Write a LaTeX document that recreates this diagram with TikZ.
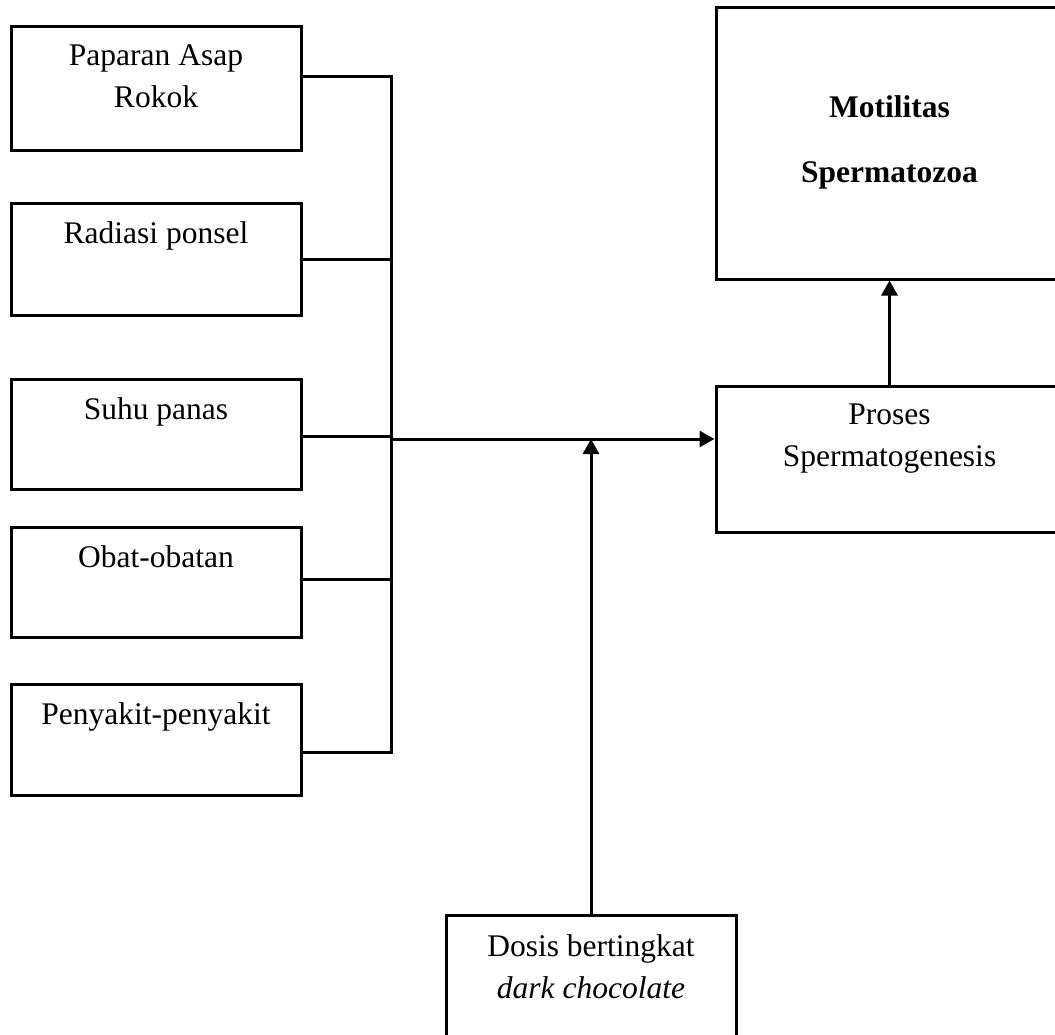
\documentclass[tikz,border=0pt]{standalone}
\usepackage{fontspec}
\setmainfont{Liberation Serif}
\usetikzlibrary{positioning,arrows.meta}
\begin{document}
\begin{tikzpicture}
        [x=1pt,y=-1pt,
        boxdecorate/.style={shape=rectangle,draw,line width=3pt,inner sep=0pt,minimum width=290pt},%
        textdecorate/.style={align=center,inner sep=0pt,font=\fontsize{31.5}{42}\selectfont},%
        linedecorate/.style={-,line width=3pt},%
        arrowdecorate/.style={-{Triangle[length=15pt,width=16pt]},line width=3pt}]
        \clip (0,0) rectangle (1055,1034);
        %% left boxes
        \foreach \nodename/\y/\h/\label in {asap/88/124/{Paparan Asap\\Rokok},
          radiasi/259/112/{Radiasi ponsel}, suhu/434/110/{Suhu panas},
          obat/582/110/{Obat-obatan}, penyakit/739.5/111/{Penyakit-penyakit}}
        {
          \node (\nodename) at (156,\y) [boxdecorate,minimum height=\h pt] {};
          \node (\nodename-t) [textdecorate,below=20pt of \nodename.north] {\label};
        }
        %% right and bottom boxes
        \node (motilitas) at (889.5,143) [boxdecorate,minimum width=347pt,minimum height=272pt] {};
        \node (motilitas-t) [textdecorate,below=90pt of motilitas.north] {\bfseries Motilitas\\[23pt]\bfseries Spermatozoa};
        \node (proses) at (889.5,459) [boxdecorate,minimum width=347pt,minimum height=146pt] {};
        \node (proses-t) [textdecorate,below=19pt of proses.north] {Proses\\Spermatogenesis};
        \node (dosis) at (591,980) [boxdecorate,minimum height=130pt] {};
        \node (dosis-t) [textdecorate,below=21pt of dosis.north] {Dosis bertingkat\\\textit{dark chocolate}};
        %% junctions
        \foreach \nodename/\y in {j1/76, j2/259, j3/436, j4/579, j5/752}
        {
          \coordinate (\nodename) at (391,\y);
        }
        \coordinate (hub) at (391,439);
        %% edges or lines
        \foreach \startnode/\endnode in {asap/j1, radiasi/j2, suhu/j3, obat/j4, penyakit/j5}
        {
          \draw[linedecorate] (\startnode.east |- \endnode) -- (\endnode);
        }
        \draw[linedecorate,line cap=rect] (j1) -- (j5);
        \draw[arrowdecorate] (hub) -- (proses.west |- hub);
        \draw[arrowdecorate] (dosis.north) -- (dosis.north |- hub);
        \draw[arrowdecorate] (proses.north) -- (motilitas.south);
      \end{tikzpicture}
\end{document}
